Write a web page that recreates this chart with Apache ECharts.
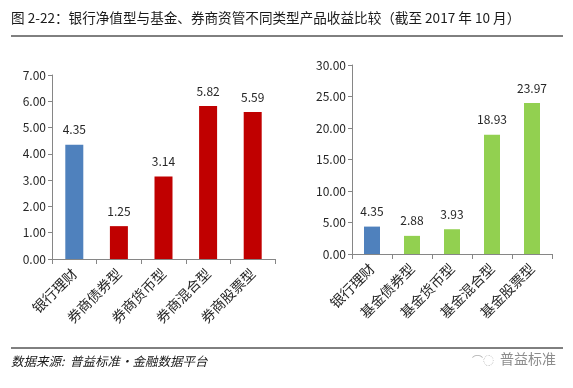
<!DOCTYPE html>
<html>
<head>
<meta charset="utf-8">
<script src="https://cdn.jsdelivr.net/npm/echarts@6/dist/echarts.min.js"></script>
<style>html,body{margin:0;padding:0;background:#fff}#c{width:573px;height:388px}</style>
</head>
<body>
<div id="c"></div>
<script>
var titleText = '图 2-22：银行净值型与基金、券商资管不同类型产品收益比较（截至 2017 年 10 月）';
var sourceText = '数据来源:  普益标准·金融数据平台';
var brandText = '普益标准';

var leftCategories = ['银行理财', '券商债券型', '券商货币型', '券商混合型', '券商股票型'];
var leftValues = [4.35, 1.25, 3.14, 5.82, 5.59];
var leftColors = ['#4F81BD', '#C00000', '#C00000', '#C00000', '#C00000'];
var leftTicks = { min: 0, max: 7, interval: 1 };

var rightCategories = ['银行理财', '基金债券型', '基金货币型', '基金混合型', '基金股票型'];
var rightValues = [4.35, 2.88, 3.93, 18.93, 23.97];
var rightColors = ['#4F81BD', '#92D050', '#92D050', '#92D050', '#92D050'];
var rightTicks = { min: 0, max: 30, interval: 5 };

var FONT = '"Noto Sans CJK SC", "Liberation Sans", sans-serif';
var axisColor = '#868686';

function xAxis(idx, cats) {
  return {
    type: 'category', gridIndex: idx, data: cats,
    axisLine: { lineStyle: { color: axisColor } },
    axisTick: { show: true, alignWithLabel: false, length: 5, lineStyle: { color: axisColor } },
    axisLabel: { rotate: 45, interval: 0, margin: 12, fontSize: 14, color: '#262626', fontFamily: FONT }
  };
}
function yAxis(idx, t) {
  return {
    type: 'value', gridIndex: idx, min: t.min, max: t.max, interval: t.interval,
    axisLine: { show: true, lineStyle: { color: axisColor } },
    axisTick: { show: true, length: 4, lineStyle: { color: axisColor } },
    splitLine: { show: false },
    axisLabel: { fontSize: 12, color: '#262626', fontFamily: FONT, margin: 6,
      formatter: function (v) { return v.toFixed(2); } }
  };
}
function series(idx, vals, colors, bw) {
  return {
    type: 'bar', xAxisIndex: idx, yAxisIndex: idx, barWidth: bw,
    data: vals.map(function (v, i) { return { value: v, itemStyle: { color: colors[i] } }; }),
    label: { show: true, position: 'top', distance: 9, fontSize: 12, color: '#262626', fontFamily: FONT,
      formatter: function (p) { return p.value.toFixed(2); } }
  };
}

var chart = echarts.init(document.getElementById('c'), null, { renderer: 'canvas' });
chart.setOption({
  animation: false,
  backgroundColor: '#fff',
  grid: [
    { left: 52, right: 298, top: 75, bottom: 129 },
    { left: 352, right: 21, top: 65, bottom: 134 }
  ],
  xAxis: [xAxis(0, leftCategories), xAxis(1, rightCategories)],
  yAxis: [yAxis(0, leftTicks), yAxis(1, rightTicks)],
  series: [series(0, leftValues, leftColors, 18), series(1, rightValues, rightColors, 16)],
  graphic: [
    { type: 'text', left: 11, top: 11, style: { text: titleText, fontSize: 13.6, fill: '#1a1a1a', fontFamily: FONT } },
    { type: 'line', shape: { x1: 11, y1: 36, x2: 563, y2: 36 }, style: { stroke: '#000', lineWidth: 1 } },
    { type: 'line', shape: { x1: 11, y1: 348, x2: 563, y2: 348 }, style: { stroke: '#000', lineWidth: 1 } },
    { type: 'text', left: 11, top: 355, style: { text: sourceText, fontSize: 12.5, fontStyle: 'italic', fill: '#1a1a1a', fontFamily: FONT } },
    { type: 'text', left: 500, top: 352, style: { text: brandText, fontSize: 14, fill: '#8c8c8c', fontFamily: FONT } },
    { type: 'text', left: 472, top: 355, style: { text: '⌒◌', fontSize: 11, fill: '#b0b0b0', fontFamily: FONT } }
  ]
});
</script>
</body>
</html>
